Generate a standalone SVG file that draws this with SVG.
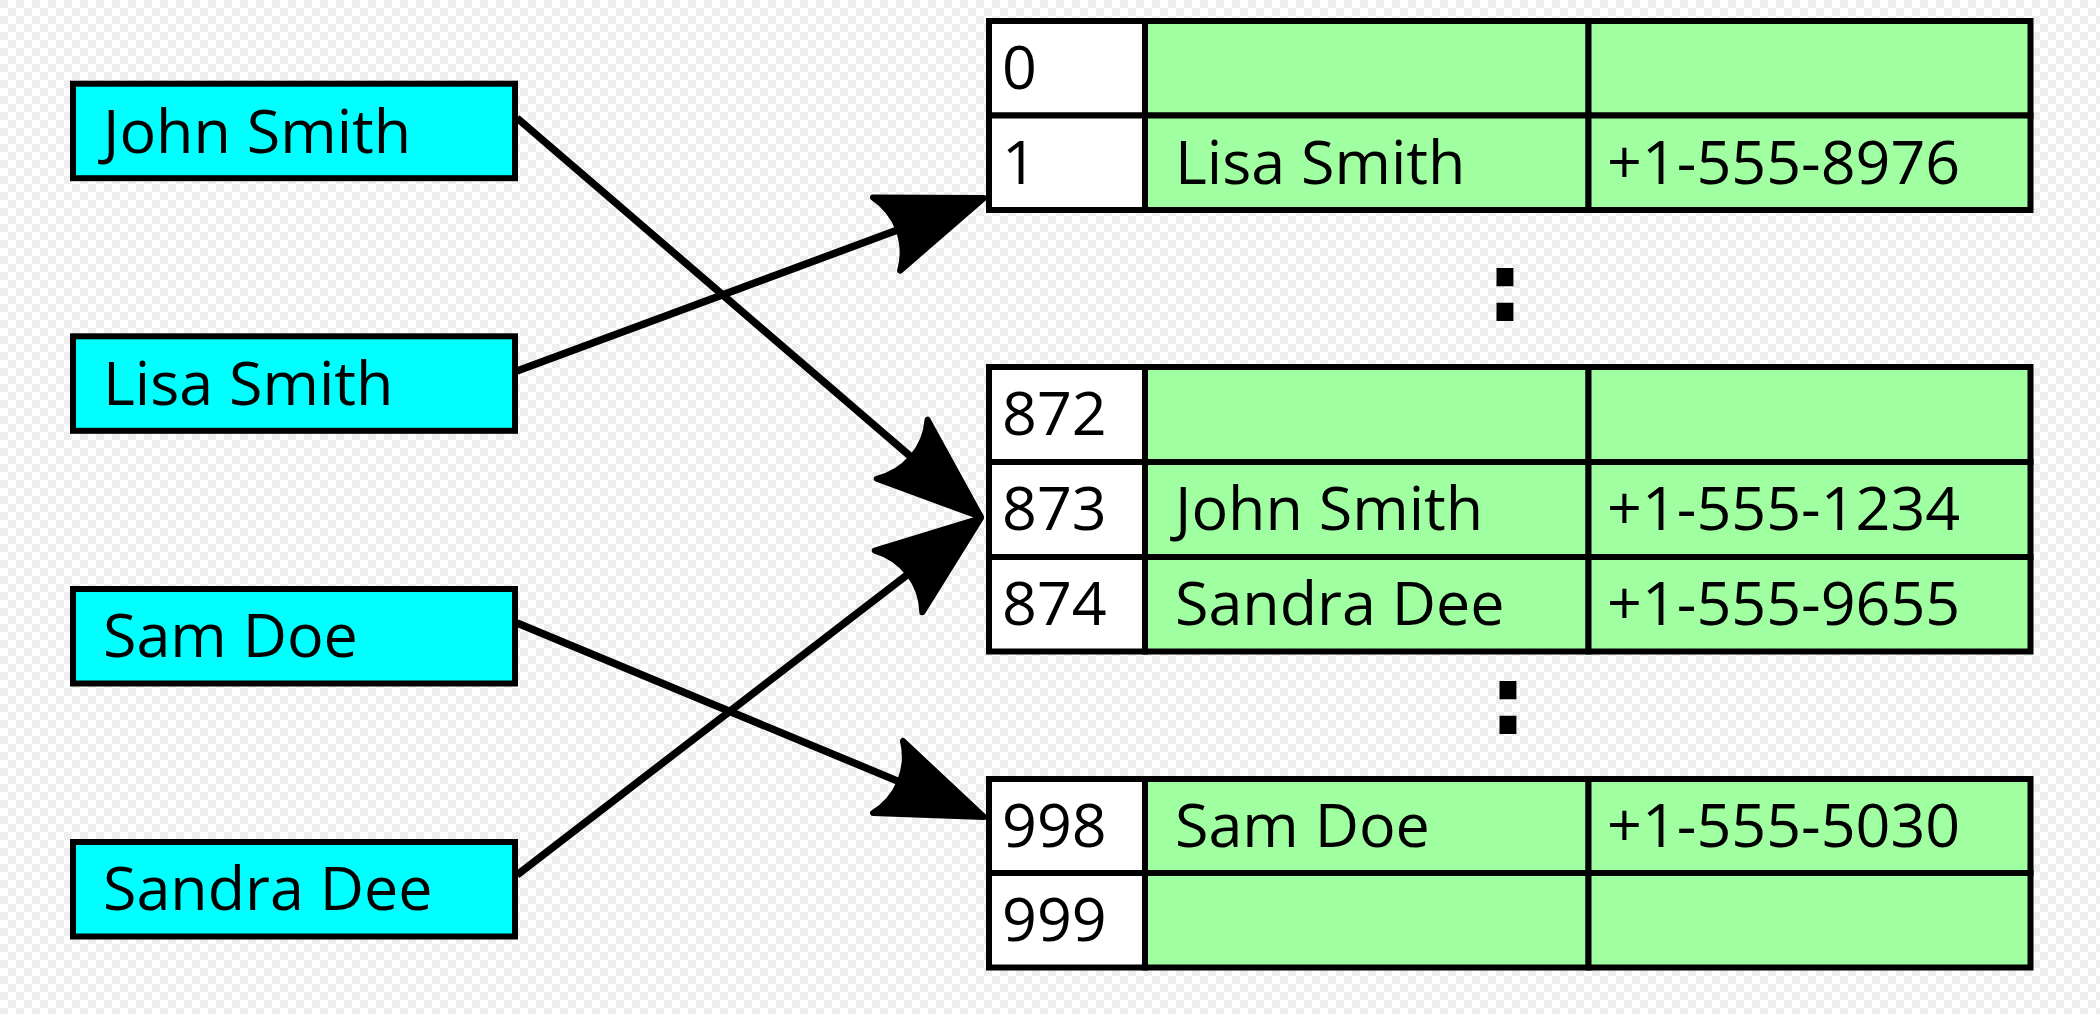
<svg xmlns="http://www.w3.org/2000/svg" width="2100" height="1014" viewBox="0 0 2100 1014">
  <style>
    .key { fill: #00ffff; stroke: #000; stroke-width: 6; }
    .idx { fill: #ffffff; stroke: #000; stroke-width: 6; }
    .cell { fill: #a0ffa0; stroke: #000; stroke-width: 6; }
    .t { font-family: "Open Sans", "Noto Sans", "DejaVu Sans", sans-serif; font-size: 61px; fill: #000; }
    .dots { font-family: "DejaVu Sans", sans-serif; font-weight: bold; font-size: 96px; fill: #000; text-anchor: middle; }
    .conn { stroke: #000; stroke-width: 7.5; fill: none; marker-end: url(#arrow); }
  </style>
  <defs>
    <pattern id="checker" width="16" height="16" patternUnits="userSpaceOnUse">
      <rect width="16" height="16" fill="#ffffff"/>
      <rect width="8" height="8" fill="#eeeeee"/>
      <rect x="8" y="8" width="8" height="8" fill="#eeeeee"/>
    </pattern>
    <marker id="arrow" markerUnits="userSpaceOnUse" orient="auto" refX="0" refY="0" markerWidth="200" markerHeight="200" viewBox="-100 -100 200 200" overflow="visible">
      <path d="M70,0 L-34,-39 C-17,-15.6 -17,15.6 -34,39 Z" fill="#000" stroke="#000" stroke-width="6" stroke-linejoin="round"/>
    </marker>
  </defs>
  <rect width="2100" height="1014" fill="url(#checker)"/>

  <g id="connectors">
    <line class="conn" x1="517" y1="118" x2="927.9" y2="471.4"/>
    <line class="conn" x1="517" y1="371" x2="918.4" y2="222.3"/>
    <line class="conn" x1="517" y1="623" x2="919.4" y2="790.1"/>
    <line class="conn" x1="517" y1="875" x2="925.5" y2="560.7"/>
  </g>

  <g id="key-john">
    <rect class="key" x="73" y="83.7" width="442" height="94.5"/>
    <text class="t" x="103" y="153">John Smith</text>
  </g>
  <g id="key-lisa">
    <rect class="key" x="73" y="336.3" width="442" height="94.5"/>
    <text class="t" x="103" y="405">Lisa Smith</text>
  </g>
  <g id="key-sam">
    <rect class="key" x="73" y="589" width="442" height="94.5"/>
    <text class="t" x="103" y="657">Sam Doe</text>
  </g>
  <g id="key-sandra">
    <rect class="key" x="73" y="842" width="442" height="94.5"/>
    <text class="t" x="103" y="910">Sandra Dee</text>
  </g>

  <g id="bucket-0">
    <rect class="idx" x="989" y="21" width="156" height="94.5"/>
    <rect class="cell" x="1145" y="21" width="443.5" height="94.5"/>
    <rect class="cell" x="1588.5" y="21" width="442" height="94.5"/>
    <text class="t" x="1002" y="89">0</text>
  </g>
  <g id="bucket-1">
    <rect class="idx" x="989" y="115.5" width="156" height="94.5"/>
    <rect class="cell" x="1145" y="115.5" width="443.5" height="94.5"/>
    <rect class="cell" x="1588.5" y="115.5" width="442" height="94.5"/>
    <text class="t" x="1002" y="184">1</text>
    <text class="t" x="1175" y="184">Lisa Smith</text>
    <text class="t" x="1607" y="184">+1-555-8976</text>
  </g>

  <g id="gap-1">
    <text class="dots" x="1505" y="321">:</text>
  </g>

  <g id="bucket-872">
    <rect class="idx" x="989" y="367" width="156" height="95"/>
    <rect class="cell" x="1145" y="367" width="443.5" height="95"/>
    <rect class="cell" x="1588.5" y="367" width="442" height="95"/>
    <text class="t" x="1002" y="435">872</text>
  </g>
  <g id="bucket-873">
    <rect class="idx" x="989" y="462" width="156" height="95"/>
    <rect class="cell" x="1145" y="462" width="443.5" height="95"/>
    <rect class="cell" x="1588.5" y="462" width="442" height="95"/>
    <text class="t" x="1002" y="530">873</text>
    <text class="t" x="1175" y="530">John Smith</text>
    <text class="t" x="1607" y="530">+1-555-1234</text>
  </g>
  <g id="bucket-874">
    <rect class="idx" x="989" y="557" width="156" height="94.5"/>
    <rect class="cell" x="1145" y="557" width="443.5" height="94.5"/>
    <rect class="cell" x="1588.5" y="557" width="442" height="94.5"/>
    <text class="t" x="1002" y="625">874</text>
    <text class="t" x="1175" y="625">Sandra Dee</text>
    <text class="t" x="1607" y="625">+1-555-9655</text>
  </g>

  <g id="gap-2">
    <text class="dots" x="1508" y="734">:</text>
  </g>

  <g id="bucket-998">
    <rect class="idx" x="989" y="779" width="156" height="94"/>
    <rect class="cell" x="1145" y="779" width="443.5" height="94"/>
    <rect class="cell" x="1588.5" y="779" width="442" height="94"/>
    <text class="t" x="1002" y="847">998</text>
    <text class="t" x="1175" y="847">Sam Doe</text>
    <text class="t" x="1607" y="847">+1-555-5030</text>
  </g>
  <g id="bucket-999">
    <rect class="idx" x="989" y="873" width="156" height="94.5"/>
    <rect class="cell" x="1145" y="873" width="443.5" height="94.5"/>
    <rect class="cell" x="1588.5" y="873" width="442" height="94.5"/>
    <text class="t" x="1002" y="941">999</text>
  </g>
</svg>
